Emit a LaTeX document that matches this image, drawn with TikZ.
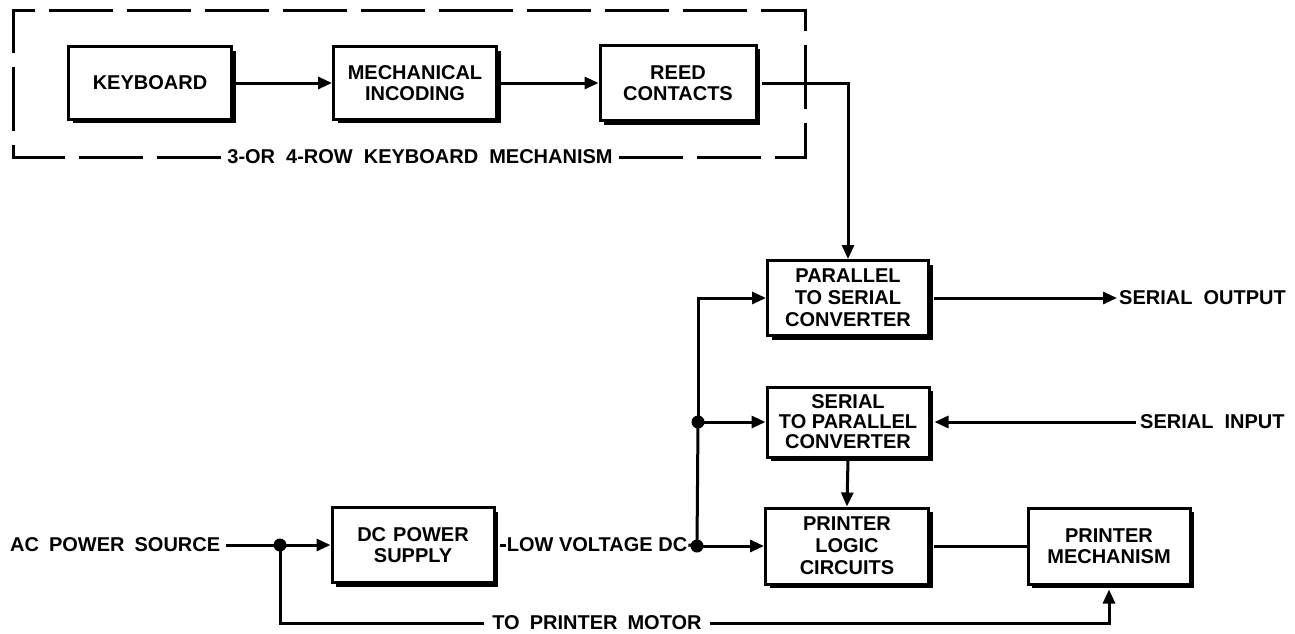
\documentclass[tikz,border=0pt]{standalone}
\usepackage{fontspec}
\setmainfont{Liberation Sans}
\usetikzlibrary{arrows.meta,shadows,calc}
\begin{document}
\begin{tikzpicture}[x=1pt,y=-1pt,
  every node/.style={font=\bfseries\fontsize{20}{21}\selectfont},
  blk/.style={draw, line width=3pt, fill=white, align=center, inner sep=0pt,
    minimum width=162pt, minimum height=74pt,
    drop shadow={shadow xshift=4pt, shadow yshift=-4pt, fill=black, opacity=1}},
  conn/.style={line width=3pt},
  arr/.style={conn, -{Triangle[length=14pt,width=12pt]}},
  lbl/.style={inner sep=2pt},
  dot/.style={circle, fill=black, inner sep=0pt, minimum size=13pt},
  frame/.style={line width=3pt, dash pattern=on 64pt off 14pt}]
\useasboundingbox (0,0) rectangle (1295,634);

% keyboard mechanism group
\node[blk, minimum width=163pt, minimum height=72pt] (kb) at (150,83) {KEYBOARD};
\node[blk, minimum width=163pt, minimum height=72pt] (mech) at (415,83) {MECHANICAL\\INCODING};
\node[blk, minimum width=156pt, minimum height=75pt] (reed) at (678,83) {REED\\CONTACTS};
\node[lbl, inner sep=6pt] (grp) at (420,157) {3-OR\hspace{0.55em}4-ROW\hspace{0.55em}KEYBOARD\hspace{0.55em}MECHANISM};
\coordinate (gtl) at (13,11);
\coordinate (gtr) at (805,11);
\coordinate (gtm) at (470,11);
\draw[frame] (grp.west) -| (gtl) -- (gtm);
\draw[frame] (grp.east) -| (gtr) -- (gtm);

% converters
\node[blk, minimum width=161pt, minimum height=75pt, font=\bfseries\fontsize{20}{22}\selectfont] (par) at (848,298) {PARALLEL\\TO SERIAL\\CONVERTER};
\node[blk, minimum width=162pt, minimum height=70pt, font=\bfseries\fontsize{20}{20}\selectfont] (s2p) at (848,422) {SERIAL\\TO PARALLEL\\CONVERTER};
\node[blk, minimum width=163pt, minimum height=76pt, font=\bfseries\fontsize{20}{22}\selectfont] (logic) at (847,546) {PRINTER\\LOGIC\\CIRCUITS};
\node[blk, minimum width=162pt, minimum height=75pt] (dc) at (413,545) {DC\hspace{0.35em}POWER\\SUPPLY};
\node[blk, minimum width=162pt, minimum height=76pt] (pm) at (1109,546) {PRINTER\\MECHANISM};

% labels
\node[lbl, anchor=west] (sout) at (1117,298) {SERIAL\hspace{0.55em}OUTPUT};
\node[lbl, anchor=west, inner sep=4pt] (sin) at (1136,422) {SERIAL\hspace{0.55em}INPUT};
\node[lbl, anchor=west, inner sep=6pt] (ac) at (4,545) {AC\hspace{0.5em}POWER\hspace{0.5em}SOURCE};
\node[lbl, inner sep=1pt] (lv) at (597,545) {LOW VOLTAGE DC};
\node[lbl, inner sep=8pt] (tpm) at (597,623) {TO\hspace{0.5em}PRINTER\hspace{0.5em}MOTOR};

% junctions
\node[dot] (j0) at (280,545) {};
\node[dot] (j1) at (698,422) {};
\node[dot] (j2) at (697,546) {};

% connectors
\draw[arr] (kb.east) -- (mech.west);
\draw[arr] (mech.east) -- (reed.west);
\draw[arr] ($(reed.east)+(4,0)$) -| (par.north);
\draw[arr] (j1.center) |- (par.west);
\draw[arr] (j1.center) -- (s2p.west);
\draw[conn] (j2.center) -- (j1.center);
\draw[arr] (j2.center) -- (logic.west);
\draw[conn] ($(dc.east)+(4,0)$) -- (lv.west);
\draw[conn] (lv.east) -- (j2.center);
\draw[arr] (s2p.south) -- (logic.north);
\draw[arr] ($(par.east)+(4,0)$) -- (sout.west);
\draw[arr] (sin.west) -- ($(s2p.east)+(4,0)$);
\draw[conn] (ac.east) -- (j0.center);
\draw[arr] (j0.center) -- (dc.west);
\draw[conn] (j0.center) |- (tpm.west);
\draw[arr] (tpm.east) -| ($(pm.south)+(0,4)$);
\draw[conn] ($(logic.east)+(4,0)$) -- (pm.west);
\end{tikzpicture}
\end{document}
